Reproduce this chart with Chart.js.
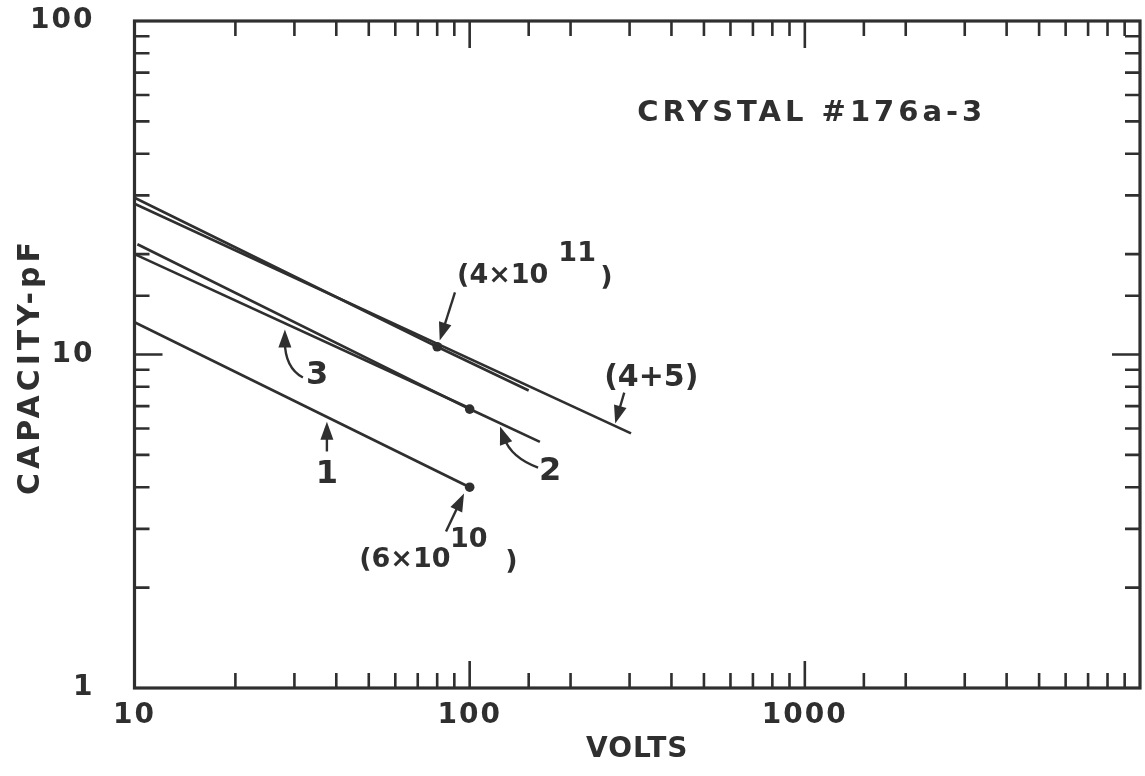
<!DOCTYPE html>
<html lang="en">
<head>
  <meta charset="UTF-8">
  <title>Crystal #176a-3 - capacity vs volts</title>
  <style>
    html, body {
      margin: 0;
      padding: 0;
      background: #fff;
    }
    #chartcontainer {
      width: 1145px;
      height: 776px;
    }
  </style>
</head>
<body>
  <div id="chartcontainer">
    <canvas id="myChart" width="1145" height="776"></canvas>
  </div>

  <script src="https://cdn.jsdelivr.net/npm/chart.js"></script>
  <script>
// tick labels
const xTickValues = [10, 100, 1000];
const yTickValues = [1, 10, 100];

// curves, volts / pF
const curve1Volts = [10, 100];
const curve1Cap = [12.5, 4.0];
const curve2Volts = [10.2, 100, 162];
const curve2Cap = [21.4, 6.86, 5.47];
const curve3Volts = [10, 100];
const curve3Cap = [20.0, 6.9];
const curve4Volts = [10, 80, 150];
const curve4Cap = [29.5, 10.55, 7.8];
const curve45Volts = [10, 303];
const curve45Cap = [28.3, 5.8];

// the marked points
const dotVolts = [100, 100, 80];
const dotCap = [4.0, 6.86, 10.55];

const ink = '#2f2f2f';
const family = '"DejaVu Sans", "Liberation Sans", sans-serif';

// labels on the plot, placed in volts / pF
const notes = [
  { text: 'CRYSTAL #176a-3', v: 316, c: 50, size: 29, spacing: 4, align: 'left' },
  { text: '(4×10', v: 91.7, c: 16.33, size: 27, spacing: 0, align: 'left' },
  { text: '11', v: 183.9, c: 19.01, size: 27, spacing: 0, align: 'left' },
  { text: ')', v: 245.1, c: 16.11, size: 27, spacing: 0, align: 'left' },
  { text: '(4+5)', v: 251.9, c: 8.07, size: 30, spacing: 0, align: 'left' },
  { text: '3', v: 35.04, c: 8.13, size: 32, spacing: 0, align: 'center' },
  { text: '2', v: 173.8, c: 4.217, size: 32, spacing: 0, align: 'center' },
  { text: '1', v: 37.5, c: 4.13, size: 32, spacing: 0, align: 'center' },
  { text: '(6×10', v: 46.8, c: 2.312, size: 27, spacing: 0, align: 'left' },
  { text: '10', v: 87.4, c: 2.654, size: 27, spacing: 0, align: 'left' },
  { text: ')', v: 127.6, c: 2.28, size: 27, spacing: 0, align: 'left' },
];

const arrows = [
  { from: [90.4, 15.35], to: [81.4, 11.02] },
  { from: [289.2, 7.69], to: [271.8, 6.21] },
  { from: [31.8, 8.53], via: [28.1, 9.14], to: [28.1, 11.89] },
  { from: [160.0, 4.58], via: [132.9, 4.91], to: [123.2, 6.08] },
  { from: [37.5, 5.12], to: [37.5, 6.29] },
  { from: [85.0, 2.944], to: [96.2, 3.83] },
];

function pts(xs, ys) {
  return xs.map((x, i) => ({ x: x, y: ys[i] }));
}

function isPow10(v) {
  const l = Math.log10(v);
  return Math.abs(l - Math.round(l)) < 1e-6;
}

function curve(xs, ys) {
  return {
    data: pts(xs, ys),
    showLine: true,
    borderColor: ink,
    borderWidth: 2.7,
    pointRadius: 0,
    fill: false,
  };
}

// frame, inward ticks, labels and arrows
const paperPlugin = {
  id: 'paper',
  beforeDraw(chart) {
    chart.ctx.letterSpacing = '2px';
  },
  afterDatasetsDraw(chart) {
    const ctx = chart.ctx;
    const xs = chart.scales.x;
    const ys = chart.scales.y;
    const area = chart.chartArea;
    const px = v => xs.getPixelForValue(v);
    const py = c => ys.getPixelForValue(c);

    ctx.save();
    ctx.strokeStyle = ink;
    ctx.fillStyle = ink;
    ctx.lineCap = 'butt';

    // ticks
    ctx.lineWidth = 2.6;
    ctx.beginPath();
    xs.ticks.forEach(t => {
      const v = t.value;
      if (v <= xs.min || v >= xs.max) return;
      const len = isPow10(v) ? 27 : 15;
      const x = px(v);
      ctx.moveTo(x, area.bottom);
      ctx.lineTo(x, area.bottom - len);
      ctx.moveTo(x, area.top);
      ctx.lineTo(x, area.top + len);
    });
    ys.ticks.forEach(t => {
      const v = t.value;
      if (v <= ys.min || v >= ys.max) return;
      const len = isPow10(v) ? 28 : 15;
      const y = py(v);
      ctx.moveTo(area.left, y);
      ctx.lineTo(area.left + len, y);
      ctx.moveTo(area.right, y);
      ctx.lineTo(area.right - len, y);
    });
    ctx.stroke();

    // frame
    ctx.lineWidth = 3.2;
    ctx.strokeRect(area.left, area.top, area.right - area.left, area.bottom - area.top);

    // arrows
    ctx.lineWidth = 2.4;
    arrows.forEach(a => {
      const x0 = px(a.from[0]), y0 = py(a.from[1]);
      const x1 = px(a.to[0]), y1 = py(a.to[1]);
      let dx, dy;
      ctx.beginPath();
      ctx.moveTo(x0, y0);
      if (a.via) {
        const cx = px(a.via[0]), cy = py(a.via[1]);
        dx = x1 - cx; dy = y1 - cy;
        const d = Math.hypot(dx, dy);
        const bx = x1 - dx / d * 12, by = y1 - dy / d * 12;
        ctx.quadraticCurveTo(cx, cy, bx, by);
      } else {
        dx = x1 - x0; dy = y1 - y0;
        const d = Math.hypot(dx, dy);
        ctx.lineTo(x1 - dx / d * 12, y1 - dy / d * 12);
      }
      ctx.stroke();
      const d = Math.hypot(dx, dy);
      const ux = dx / d, uy = dy / d;
      const hl = 18, hw = 6.5;
      ctx.beginPath();
      ctx.moveTo(x1, y1);
      ctx.lineTo(x1 - ux * hl - uy * hw, y1 - uy * hl + ux * hw);
      ctx.lineTo(x1 - ux * hl + uy * hw, y1 - uy * hl - ux * hw);
      ctx.closePath();
      ctx.fill();
    });

    // text on the plot
    ctx.textBaseline = 'alphabetic';
    notes.forEach(n => {
      ctx.letterSpacing = n.spacing + 'px';
      ctx.font = 'bold ' + n.size + 'px ' + family;
      ctx.textAlign = n.align;
      ctx.fillText(n.text, px(n.v), py(n.c));
    });

    // axis titles
    ctx.font = 'bold 28px ' + family;
    ctx.letterSpacing = '1px';
    ctx.textAlign = 'center';
    ctx.textBaseline = 'middle';
    ctx.fillText('VOLTS', (area.left + area.right) / 2, 750);

    ctx.font = 'bold 30px ' + family;
    ctx.translate(ys.left + 31, (area.top + area.bottom) / 2 + 12);
    ctx.rotate(-Math.PI / 2);
    ctx.letterSpacing = '4px';
    ctx.fillText('CAPACITY-pF', 0, 0);
    ctx.restore();
  }
};

const tickFont = { family: family, size: 28, weight: 'bold' };

const chart = new Chart(document.getElementById('myChart'), {
  type: 'scatter',
  data: {
    datasets: [
      curve(curve1Volts, curve1Cap),
      curve(curve2Volts, curve2Cap),
      curve(curve3Volts, curve3Cap),
      curve(curve4Volts, curve4Cap),
      curve(curve45Volts, curve45Cap),
      {
        data: pts(dotVolts, dotCap),
        showLine: false,
        pointRadius: 4.8,
        pointBackgroundColor: ink,
        pointBorderColor: ink,
        pointBorderWidth: 0,
      },
    ],
  },
  options: {
    responsive: false,
    animation: false,
    devicePixelRatio: 1,
    layout: {
      padding: { top: 21, right: 5, left: 0, bottom: 0 }
    },
    plugins: {
      legend: { display: false },
      tooltip: { enabled: false },
    },
    scales: {
      x: {
        type: 'logarithmic',
        position: 'bottom',
        min: 10,
        max: 10000,
        // grid hidden; tickLength only pushes the labels down
        grid: { display: false, drawTicks: true, tickLength: 11 },
        border: { display: false },
        ticks: {
          autoSkip: false,
          maxRotation: 0,
          padding: 0,
          color: ink,
          font: tickFont,
          callback: v => xTickValues.some(t => Math.abs(t - v) < 1e-6) ? String(v) : '',
        },
        afterFit: s => { s.height = 88; },
      },
      y: {
        type: 'logarithmic',
        position: 'left',
        min: 1,
        max: 100,
        grid: { display: false, drawTicks: true, tickLength: 40 },
        border: { display: false },
        ticks: {
          autoSkip: false,
          padding: 0,
          color: ink,
          font: tickFont,
          callback: v => yTickValues.some(t => Math.abs(t - v) < 1e-6) ? String(v) : '',
        },
        afterFit: s => { s.width = 134.5; },
      },
    },
  },
  plugins: [paperPlugin],
});
  </script>
</body>
</html>
